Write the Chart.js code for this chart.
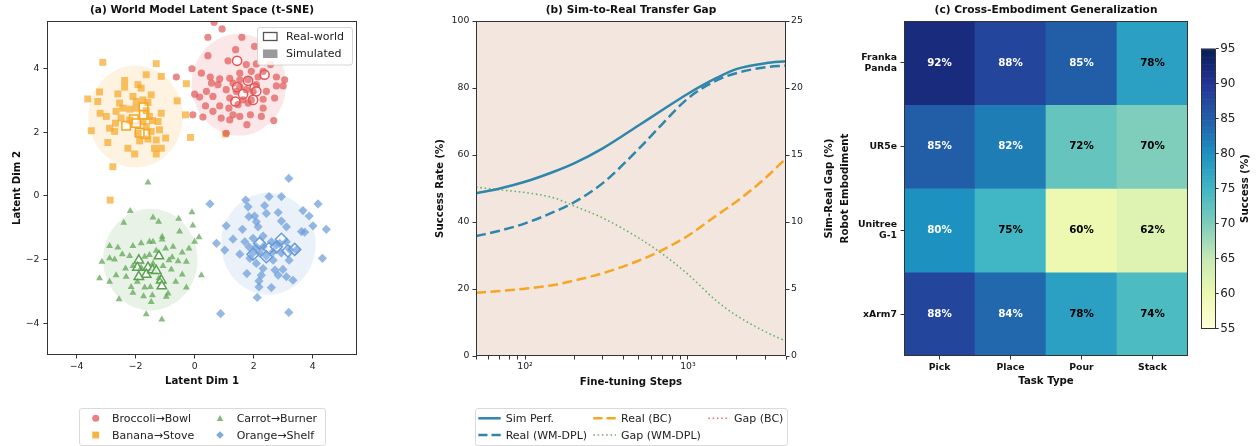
<!DOCTYPE html>
<html>
<head>
<meta charset="utf-8">
<script src="https://cdn.jsdelivr.net/npm/chart.js@4.4.1/dist/chart.umd.min.js"></script>
<style>
  body { margin: 0; background: #fff; }
  #wrap { position: relative; width: 1256px; height: 446px; overflow: hidden; background: #fff; }
  canvas { position: absolute; top: 0; }
  svg { position: absolute; left: 0; top: 0; pointer-events: none; }
  svg text { font-family: "DejaVu Sans", sans-serif; font-size: 11px; fill: #222; dominant-baseline: central; }
</style>
</head>
<body>
<div id="wrap">
  <canvas id="latent" width="370" height="395" style="left:0"></canvas>
  <canvas id="transfer" width="430" height="395" style="left:420px"></canvas>
  <canvas id="heat" width="362" height="395" style="left:830px"></canvas>
  <canvas id="cbar" width="64" height="395" style="left:1192px"></canvas>

  <svg width="1256" height="446">
    <!-- (a) inner legend -->
    <rect x="257.5" y="27.5" width="95" height="37.5" rx="2.5" fill="rgba(255,255,255,0.85)" stroke="#cccccc" stroke-width="0.8"/>
    <rect x="263.5" y="32.5" width="13.5" height="8" fill="#fff" stroke="#555" stroke-width="1.3"/>
    <text x="286" y="36.7">Real-world</text>
    <rect x="263" y="49.5" width="14.5" height="8.5" fill="#9a9a9a"/>
    <text x="286" y="53.8">Simulated</text>

    <!-- (a) bottom legend -->
    <rect x="79.5" y="408.5" width="246" height="37" rx="2.5" fill="#fff" stroke="#d0d0d0" stroke-width="0.8"/>
    <circle cx="95.7" cy="418.3" r="3.5" fill="rgba(225,87,89,0.75)"/>
    <text x="112" y="418.3">Broccoli→Bowl</text>
    <rect x="92.3" y="431.6" width="6.8" height="6.8" fill="rgba(245,166,35,0.85)"/>
    <text x="112" y="435">Banana→Stove</text>
    <polygon points="220,415 223.2,421 216.8,421" fill="rgba(89,161,79,0.75)"/>
    <text x="236.7" y="418.3">Carrot→Burner</text>
    <polygon points="220,431.2 223.8,435 220,438.8 216.2,435" fill="rgba(106,155,216,0.85)"/>
    <text x="236.7" y="435">Orange→Shelf</text>

    <!-- (b) bottom legend -->
    <rect x="475.5" y="408.5" width="312" height="37" rx="2.5" fill="#fff" stroke="#d0d0d0" stroke-width="0.8"/>
    <line x1="478.3" y1="418.3" x2="500.7" y2="418.3" stroke="#2E86AB" stroke-width="2.5"/>
    <text x="505.7" y="418.3">Sim Perf.</text>
    <line x1="478.3" y1="435" x2="500.7" y2="435" stroke="#2E86AB" stroke-width="2.5" stroke-dasharray="9.2 4"/>
    <text x="505.7" y="435">Real (WM-DPL)</text>
    <line x1="593.3" y1="418.3" x2="616" y2="418.3" stroke="#F5A623" stroke-width="2.5" stroke-dasharray="9.2 4"/>
    <text x="621" y="418.3">Real (BC)</text>
    <line x1="593.3" y1="435" x2="616" y2="435" stroke="#6DB36D" stroke-width="1.6" stroke-dasharray="1.6 2.7"/>
    <text x="621" y="435">Gap (WM-DPL)</text>
    <line x1="708.3" y1="418.3" x2="730" y2="418.3" stroke="#E57373" stroke-width="1.6" stroke-dasharray="1.6 2.7"/>
    <text x="734" y="418.3">Gap (BC)</text>
  </svg>
</div>

<script>
// -------------------------------
// (a) latent space data
// -------------------------------
const clusterNames = ["Broccoli→Bowl", "Banana→Stove", "Carrot→Burner", "Orange→Shelf"];
const clusterCenters = [[1.5, 3.5], [-2.0, 2.5], [-1.5, -2.0], [2.5, -1.5]];
const clusterRadius = 1.6;
const latentTicks = [-4, -2, 0, 2, 4];

const broccoliSim = [[0.66,5.46],[0.93,5.25],[0.45,4.99],[1.60,4.99],[2.03,4.70],[1.39,4.60],[0.45,4.41],[1.13,4.25],[1.75,4.13],[2.09,4.15],[2.57,4.13],[-0.09,4.00],[0.23,3.86],[1.53,3.86],[1.92,3.92],[2.32,3.92],[-0.62,3.74],[0.53,3.74],[0.85,3.68],[1.19,3.70],[1.53,3.65],[1.81,3.65],[2.15,3.74],[2.77,3.74],[3.05,3.65],[0.57,3.55],[0.79,3.50],[1.30,3.55],[1.53,3.44],[2.09,3.50],[2.77,3.46],[3.00,3.46],[1.07,3.34],[1.41,3.29],[1.75,3.34],[1.98,3.29],[2.43,3.29],[0.40,3.29],[0.00,3.20],[0.17,3.11],[0.62,3.13],[1.19,3.08],[1.64,3.02],[1.92,3.02],[2.32,3.04],[2.71,3.08],[0.37,2.83],[0.85,2.83],[1.16,2.76],[1.47,2.87],[1.81,2.92],[2.32,2.76],[-0.06,2.55],[0.62,2.66],[1.30,2.55],[1.53,2.50],[1.89,2.55],[2.26,2.50],[0.28,2.48],[0.90,2.45],[1.77,2.24],[1.19,2.39],[2.68,2.37],[1.07,1.97]];
const broccoliReal = [[1.44,4.25],[2.37,3.81],[1.81,3.62],[1.44,3.42],[1.64,3.20],[2.03,3.39],[2.09,3.29],[1.38,2.97],[1.98,3.02]];

const bananaSim = [[-3.11,4.20],[-1.30,4.16],[-1.64,3.81],[-1.13,3.76],[-0.28,3.53],[-3.62,3.05],[-3.22,3.27],[-3.28,2.97],[-2.37,3.63],[-2.37,3.42],[-1.92,3.50],[-1.81,3.39],[-2.60,3.21],[-2.54,2.92],[-2.09,3.13],[-1.98,2.97],[-2.43,2.76],[-1.75,3.02],[-1.58,2.94],[-1.47,3.18],[-3.20,2.60],[-2.99,2.50],[-2.66,2.66],[-2.49,2.45],[-2.20,2.73],[-1.98,2.76],[-1.64,2.68],[-1.53,2.50],[-1.13,2.60],[-1.43,2.37],[-1.24,2.34],[-2.68,2.29],[-2.88,2.13],[-2.20,2.39],[-1.75,2.34],[-2.71,2.03],[-1.64,2.18],[-1.47,2.03],[-1.19,2.08],[-0.98,1.82],[-1.92,1.97],[-1.86,1.73],[-1.58,1.79],[-1.30,1.76],[-1.36,1.50],[-1.13,1.50],[-1.30,1.32],[-2.03,1.32],[-2.26,1.50],[-2.94,1.68],[-3.50,2.05],[-2.77,0.92],[-0.59,2.99],[-0.31,2.55],[-0.14,1.84],[-2.86,-0.13],[1.05,1.95]];
const bananaReal = [[-2.32,2.21],[-2.06,2.41],[-1.98,2.29],[-1.73,2.79],[-1.67,1.95],[-1.86,1.99],[-1.72,2.55]];

const carrotSim = [[-1.58,0.42],[-2.18,-0.47],[-2.40,-0.84],[-1.41,-0.68],[-1.22,-0.81],[-0.54,-0.72],[-0.09,-0.51],[-0.06,-0.93],[-0.51,-1.12],[-1.10,-1.28],[-1.10,-1.37],[-1.53,-1.44],[-1.41,-1.44],[-1.81,-1.49],[-2.09,-1.57],[-2.88,-1.57],[-2.60,-1.62],[0.15,-1.30],[0.00,-1.44],[-0.73,-1.60],[-0.19,-1.65],[-0.42,-1.78],[-0.98,-1.65],[-1.30,-1.72],[-2.45,-1.83],[-2.20,-1.89],[-2.88,-1.96],[-2.71,-2.00],[-3.14,-2.07],[-1.53,-1.86],[-1.69,-1.91],[-0.87,-2.02],[-0.56,-2.05],[-0.28,-2.07],[-1.41,-2.12],[-2.09,-2.20],[-1.81,-2.26],[-1.07,-2.20],[-0.79,-2.31],[-2.34,-2.28],[-2.66,-2.49],[-2.32,-2.54],[-3.22,-2.59],[-2.88,-2.70],[0.23,-2.49],[-0.42,-2.47],[-0.64,-2.70],[-0.28,-2.88],[-1.21,-2.59],[-1.50,-2.86],[-1.69,-2.88],[-1.94,-2.70],[-2.15,-2.86],[-2.09,-3.04],[-0.90,-3.07],[-0.96,-3.17],[-1.43,-3.12],[-1.73,-3.15],[-1.47,-3.33],[-2.56,-3.25],[-1.64,-3.72],[-1.11,-3.88],[-0.76,-1.93]];
const carrotReal = [[-1.89,-2.02],[-1.94,-2.25],[-1.21,-1.89],[-1.58,-2.25],[-1.64,-2.47],[-1.43,-2.33],[-1.30,-2.35],[-1.13,-2.65],[-1.11,-2.83],[-1.89,-2.54]];

const orangeSim = [[3.19,0.55],[0.52,-0.25],[1.73,-0.13],[2.52,-0.02],[2.94,-0.02],[4.18,-0.25],[1.81,-0.34],[2.37,-0.30],[2.43,-0.55],[2.83,-0.52],[3.67,-0.46],[3.88,-0.63],[1.84,-0.65],[2.03,-0.63],[2.09,-0.81],[2.94,-0.79],[3.11,-0.97],[4.01,-0.94],[4.46,-1.05],[1.07,-0.94],[1.62,-1.05],[2.15,-0.97],[3.62,-1.12],[3.73,-1.14],[1.30,-1.36],[1.70,-1.44],[0.74,-1.49],[1.02,-1.70],[1.53,-1.83],[2.32,-1.26],[1.98,-1.33],[2.60,-1.44],[3.11,-1.44],[2.88,-1.49],[1.84,-1.60],[2.09,-1.60],[2.32,-1.60],[2.77,-1.54],[3.22,-1.68],[3.45,-1.70],[1.98,-1.79],[2.20,-1.79],[2.66,-1.75],[2.94,-1.79],[2.43,-1.89],[1.87,-1.96],[2.09,-2.12],[2.66,-2.02],[3.20,-2.02],[4.33,-1.96],[2.32,-2.28],[2.72,-2.33],[1.77,-2.44],[2.83,-2.49],[2.99,-2.31],[2.26,-2.49],[2.18,-2.67],[2.60,-2.88],[3.11,-2.54],[3.33,-2.65],[2.18,-2.86],[2.12,-3.19],[0.88,-3.70],[3.19,-3.66]];
const orangeReal = [[1.98,-1.83],[2.20,-1.49],[2.52,-1.65],[2.77,-1.60],[2.94,-1.36],[2.43,-1.91],[3.16,-1.73],[3.39,-1.68]];

// -------------------------------
// (b) transfer gap data
// -------------------------------
const steps = [50, 70, 100, 150, 200, 300, 500, 700, 1000, 1500, 2000, 3000, 4000];
const simPerf = [48.6, 50.0, 52.0, 55.0, 57.5, 62.0, 68.9, 73.5, 78.3, 83.0, 85.7, 87.4, 88.0];
const realWmDpl = [35.8, 37.4, 39.6, 43.0, 45.9, 51.6, 61.9, 69.4, 76.9, 82.3, 84.5, 86.2, 86.7];
const realBc = [18.9, 19.4, 20.1, 21.2, 22.5, 24.7, 28.5, 31.7, 35.9, 42.0, 46.2, 53.2, 59.0];
const gapWmDpl = [12.6, 12.4, 12.2, 11.8, 11.2, 10.3, 8.8, 7.6, 6.1, 4.1, 3.0, 1.8, 1.1];
const gapBc = [29.7, 30.6, 31.9, 33.8, 35.0, 37.3, 40.4, 41.8, 42.4, 41.0, 39.5, 34.2, 29.0];
const stepTicks = [50, 60, 70, 80, 90, 100, 200, 300, 400, 500, 600, 700, 800, 900, 1000, 2000, 3000, 4000];
const successTicks = [0, 20, 40, 60, 80, 100];
const gapTicks = [0, 5, 10, 15, 20, 25];

// -------------------------------
// (c) cross-embodiment data
// -------------------------------
const robots = [["Franka", "Panda"], "UR5e", ["Unitree", "G-1"], "xArm7"];
const tasks = ["Pick", "Place", "Pour", "Stack"];
const successRates = [
  [92, 88, 85, 78],
  [85, 82, 72, 70],
  [80, 75, 60, 62],
  [88, 84, 78, 74],
];
const colorbarTicks = [55, 60, 65, 70, 75, 80, 85, 90, 95];
const cbMin = 55, cbMax = 95;

// -------------------------------
// shared look
// -------------------------------
Chart.defaults.font.family = "'DejaVu Sans', sans-serif";
Chart.defaults.color = "#222";
const tickFont = { size: 9.3 };
const boldLabel = { size: 10.2, weight: "bold" };
const titleFont = { size: 10.6, weight: "bold" };

function minusFmt(v) {
  return v < 0 ? "\u2212" + Math.abs(v) : String(v);
}

function tickGrid() {
  return { display: true, drawOnChartArea: false, drawTicks: true, tickLength: 3.5, tickColor: "#333", tickWidth: 1 };
}

function setTicks(list) {
  return (scale) => { scale.ticks = list.map((v) => ({ value: v })); };
}

const frame = {
  id: "frame",
  afterDraw(chart) {
    const { ctx, chartArea: a } = chart;
    ctx.save();
    ctx.setLineDash([]);
    ctx.strokeStyle = "#333";
    ctx.lineWidth = 1;
    ctx.strokeRect(Math.round(a.left) + 0.5, Math.round(a.top) + 0.5, Math.round(a.right - a.left) - 1, Math.round(a.bottom - a.top) - 1);
    ctx.restore();
  },
};

// vertical title reading bottom-to-top, for right-hand axes
function sideTitle(id, text, x) {
  return {
    id: id,
    afterDraw(chart) {
      const { ctx, chartArea: a } = chart;
      ctx.save();
      ctx.translate(x, (a.top + a.bottom) / 2);
      ctx.rotate(-Math.PI / 2);
      ctx.font = "bold 10.2px 'DejaVu Sans'";
      ctx.fillStyle = "#111";
      ctx.textAlign = "center";
      ctx.textBaseline = "middle";
      ctx.fillText(text, 0, 0);
      ctx.restore();
    },
  };
}

// -------------------------------
// (a) latent space
// -------------------------------
const clusterColors = [[225, 87, 89], [245, 166, 35], [89, 161, 79], [106, 155, 216]];
const rgba = (c, a) => `rgba(${c[0]},${c[1]},${c[2]},${a})`;
const simSets = [broccoliSim, bananaSim, carrotSim, orangeSim];
const realSets = [broccoliReal, bananaReal, carrotReal, orangeReal];
const markerStyles = ["circle", "rect", "triangle", "rectRot"];
const simRadius = [3.6, 4.9, 4.0, 4.6];
const realRadius = [4.6, 6.0, 5.4, 6.0];

const toXY = (arr) => arr.map((p) => ({ x: p[0], y: p[1] }));

const latentDatasets = [];
clusterNames.forEach((name, i) => {
  latentDatasets.push({
    label: name,
    data: toXY(simSets[i]),
    pointStyle: markerStyles[i],
    pointRadius: simRadius[i],
    backgroundColor: rgba(clusterColors[i], 0.7),
    borderWidth: 0,
  });
  latentDatasets.push({
    label: name + " (real)",
    data: toXY(realSets[i]),
    pointStyle: markerStyles[i],
    pointRadius: realRadius[i],
    backgroundColor: "rgba(255,255,255,0.7)",
    borderColor: rgba(clusterColors[i], 1),
    borderWidth: 1.5,
  });
});

const clusterShade = {
  id: "clusterShade",
  beforeDatasetsDraw(chart) {
    const { ctx, chartArea: a, scales: { x, y } } = chart;
    ctx.save();
    ctx.beginPath();
    ctx.rect(a.left, a.top, a.right - a.left, a.bottom - a.top);
    ctx.clip();
    clusterCenters.forEach((c, i) => {
      const cx = x.getPixelForValue(c[0]);
      const cy = y.getPixelForValue(c[1]);
      const rx = Math.abs(x.getPixelForValue(c[0] + clusterRadius) - cx);
      const ry = Math.abs(y.getPixelForValue(c[1] + clusterRadius) - cy);
      ctx.beginPath();
      ctx.ellipse(cx, cy, rx, ry, 0, 0, Math.PI * 2);
      ctx.fillStyle = rgba(clusterColors[i], 0.14);
      ctx.fill();
    });
    ctx.restore();
  },
};

new Chart(document.getElementById("latent"), {
  type: "scatter",
  data: { datasets: latentDatasets },
  options: {
    responsive: false,
    animation: false,
    events: [],
    layout: { padding: { left: 0, right: 13, top: 0, bottom: 0 } },
    plugins: {
      legend: { display: false },
      tooltip: { enabled: false },
      title: { display: true, fullSize: false, text: "(a) World Model Latent Space (t-SNE)", font: titleFont, color: "#111", padding: { top: 4, bottom: 4.3 } },
    },
    scales: {
      x: {
        type: "linear", min: -5, max: 5.5,
        afterBuildTicks: setTicks(latentTicks),
        afterFit: (s) => { s.height = 40; },
        ticks: { font: tickFont, padding: 2.5, maxRotation: 0, autoSkip: false, callback: (v) => minusFmt(v) },
        grid: tickGrid(),
        border: { display: false },
        title: { display: true, text: "Latent Dim 1", font: boldLabel, color: "#111", padding: { top: 0, bottom: 7.9 } },
      },
      y: {
        type: "linear", min: -5, max: 5.5,
        afterBuildTicks: setTicks(latentTicks),
        afterFit: (s) => { s.width = 47; },
        ticks: { font: tickFont, padding: 4, autoSkip: false, callback: (v) => minusFmt(v) },
        grid: tickGrid(),
        border: { display: false },
        title: { display: true, text: "Latent Dim 2", font: boldLabel, color: "#111", padding: { top: 10.9, bottom: 0 } },
      },
    },
  },
  plugins: [clusterShade, frame],
});

// -------------------------------
// (b) sim-to-real transfer gap
// -------------------------------
const pairUp = (ys) => steps.map((s, i) => ({ x: s, y: ys[i] }));

const plotBackground = {
  id: "plotBackground",
  beforeDatasetsDraw(chart) {
    const { ctx, chartArea: a } = chart;
    ctx.save();
    ctx.fillStyle = "#f3e6df";
    ctx.fillRect(a.left, a.top, a.right - a.left, a.bottom - a.top);
    ctx.restore();
  },
};

new Chart(document.getElementById("transfer"), {
  type: "line",
  data: {
    datasets: [
      { label: "Sim Perf.", data: pairUp(simPerf), borderColor: "#2E86AB", borderWidth: 2.5, yAxisID: "y" },
      { label: "Real (WM-DPL)", data: pairUp(realWmDpl), borderColor: "#2E86AB", borderWidth: 2.5, borderDash: [10, 4.5], yAxisID: "y" },
      { label: "Real (BC)", data: pairUp(realBc), borderColor: "#F5A623", borderWidth: 2.5, borderDash: [10, 4.5], yAxisID: "y" },
      { label: "Gap (WM-DPL)", data: pairUp(gapWmDpl), borderColor: "#6DB36D", borderWidth: 1.6, borderDash: [1.6, 2.7], yAxisID: "y2" },
      { label: "Gap (BC)", data: pairUp(gapBc), borderColor: "#E57373", borderWidth: 1.6, borderDash: [1.6, 2.7], yAxisID: "y2" },
    ],
  },
  options: {
    responsive: false,
    animation: false,
    events: [],
    elements: { point: { radius: 0 }, line: { cubicInterpolationMode: "monotone", fill: false } },
    plugins: {
      legend: { display: false },
      tooltip: { enabled: false },
      title: { display: true, fullSize: false, text: "(b) Sim-to-Real Transfer Gap", font: titleFont, color: "#111", padding: { top: 4, bottom: 4.3 } },
    },
    scales: {
      x: {
        type: "logarithmic", min: 50, max: 4000,
        afterBuildTicks: setTicks(stepTicks),
        afterFit: (s) => { s.height = 39; },
        ticks: { font: tickFont, padding: 2, maxRotation: 0, autoSkip: false, callback: (v) => (v === 100 ? "10²" : v === 1000 ? "10³" : "") },
        grid: tickGrid(),
        border: { display: false },
        title: { display: true, text: "Fine-tuning Steps", font: boldLabel, color: "#111", padding: { top: 0, bottom: 6.9 } },
      },
      y: {
        min: 0, max: 100,
        afterBuildTicks: setTicks(successTicks),
        afterFit: (s) => { s.width = 56; },
        ticks: { font: tickFont, padding: 3.2, autoSkip: false },
        grid: tickGrid(),
        border: { display: false },
        title: { display: true, text: "Success Rate (%)", font: boldLabel, color: "#111", padding: { top: 13.9, bottom: 0 } },
      },
      y2: {
        position: "right", min: 0, max: 25,
        afterBuildTicks: setTicks(gapTicks),
        afterFit: (s) => { s.width = 64; },
        ticks: { font: tickFont, padding: 1.5, autoSkip: false },
        grid: tickGrid(),
        border: { display: false },
      },
    },
  },
  plugins: [plotBackground, frame, sideTitle("gapTitle", "Sim-Real Gap (%)", 409)],
});

// -------------------------------
// (c) cross-embodiment heatmap
// -------------------------------
const ylgnbuStops = [[255,255,217],[237,248,177],[199,233,180],[127,205,187],[65,182,196],[29,145,192],[34,94,168],[37,52,148],[8,29,88]];
function ylgnbu(v) {
  const t = Math.min(1, Math.max(0, (v - cbMin) / (cbMax - cbMin)));
  const p = t * 8;
  const i = Math.min(7, Math.floor(p));
  const f = p - i;
  const a = ylgnbuStops[i], b = ylgnbuStops[i + 1];
  return `rgb(${Math.round(a[0] + (b[0] - a[0]) * f)},${Math.round(a[1] + (b[1] - a[1]) * f)},${Math.round(a[2] + (b[2] - a[2]) * f)})`;
}

const cellLabels = {
  id: "cellLabels",
  afterDatasetsDraw(chart) {
    const { ctx } = chart;
    ctx.save();
    ctx.font = "bold 10.3px 'DejaVu Sans'";
    ctx.textAlign = "center";
    ctx.textBaseline = "middle";
    chart.data.datasets.forEach((ds, r) => {
      chart.getDatasetMeta(r).data.forEach((bar, c) => {
        const v = successRates[r][c];
        ctx.fillStyle = v > 79 ? "#fff" : "#000";
        ctx.fillText(v + "%", bar.x, (bar.y + bar.base) / 2);
      });
    });
    ctx.restore();
  },
};

new Chart(document.getElementById("heat"), {
  type: "bar",
  data: {
    labels: tasks,
    datasets: robots.map((name, r) => ({
      label: Array.isArray(name) ? name.join(" ") : name,
      data: tasks.map(() => [r, r + 1]),
      backgroundColor: successRates[r].map((v) => ylgnbu(v)),
      borderWidth: 0,
      grouped: false,
      barPercentage: 1,
      categoryPercentage: 1,
    })),
  },
  options: {
    responsive: false,
    animation: false,
    events: [],
    layout: { padding: { left: 0, right: 4, top: 0, bottom: 0 } },
    plugins: {
      legend: { display: false },
      tooltip: { enabled: false },
      title: { display: true, fullSize: false, text: "(c) Cross-Embodiment Generalization", font: titleFont, color: "#111", padding: { top: 4, bottom: 4.3 } },
    },
    scales: {
      x: {
        type: "category",
        afterFit: (s) => { s.height = 39; },
        ticks: { font: { size: 9.3, weight: "bold" }, color: "#111", padding: 2.2, maxRotation: 0, autoSkip: false },
        grid: Object.assign(tickGrid(), { offset: false }),
        border: { display: false },
        title: { display: true, text: "Task Type", font: boldLabel, color: "#111", padding: { top: 0, bottom: 7.2 } },
      },
      y: {
        type: "linear", min: 0, max: robots.length, reverse: true,
        afterBuildTicks: setTicks(robots.map((_, i) => i + 0.5)),
        afterFit: (s) => { s.width = 74; },
        ticks: { font: { size: 9.3, weight: "bold" }, color: "#111", padding: 3.5, autoSkip: false, callback: (v, i) => robots[i] },
        grid: tickGrid(),
        border: { display: false },
        title: { display: true, text: "Robot Embodiment", font: boldLabel, color: "#111", padding: { top: 8.9, bottom: 0 } },
      },
    },
  },
  plugins: [cellLabels, frame],
});

// colorbar
const colorStrip = {
  id: "colorStrip",
  beforeDatasetsDraw(chart) {
    const { ctx, chartArea: a, scales: { y } } = chart;
    const step = 0.25;
    ctx.save();
    for (let v = cbMin; v < cbMax; v += step) {
      const y0 = y.getPixelForValue(v);
      const y1 = y.getPixelForValue(Math.min(cbMax, v + step));
      ctx.fillStyle = ylgnbu(v + step / 2);
      ctx.fillRect(a.left, y1, a.right - a.left, y0 - y1 + 0.6);
    }
    ctx.restore();
  },
};

new Chart(document.getElementById("cbar"), {
  type: "bar",
  data: { labels: [""], datasets: [] },
  options: {
    responsive: false,
    animation: false,
    events: [],
    layout: { padding: { left: 9, right: 0, top: 48.5, bottom: 66.5 } },
    plugins: { legend: { display: false }, tooltip: { enabled: false } },
    scales: {
      x: { display: false },
      y: {
        type: "linear", position: "right", min: cbMin, max: cbMax,
        afterBuildTicks: setTicks(colorbarTicks),
        afterFit: (s) => { s.width = 40.3; },
        ticks: { font: { size: 12 }, padding: 1.5, autoSkip: false },
        grid: Object.assign(tickGrid(), { tickLength: 3 }),
        border: { display: false },
      },
    },
  },
  plugins: [colorStrip, frame, sideTitle("cbTitle", "Success (%)", 53)],
});
</script>
</body>
</html>
